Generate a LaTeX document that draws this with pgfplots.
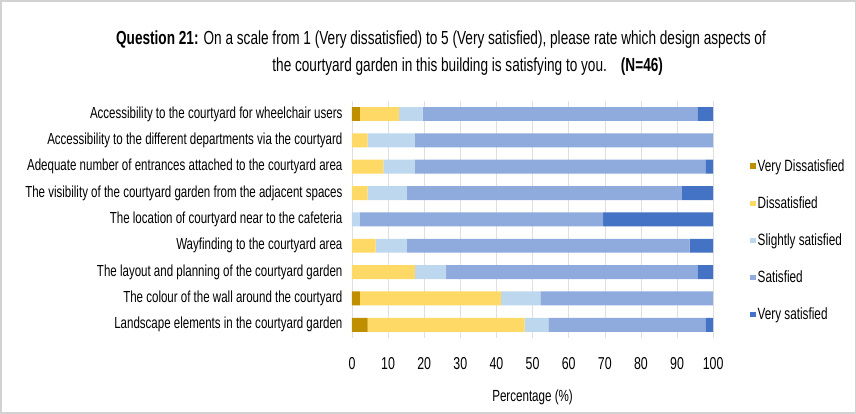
\documentclass[border=0pt]{standalone}
\usepackage{pgfplots}
\pgfplotsset{compat=1.18}
\usepackage{fontspec}
\setmainfont{Liberation Sans}[FakeStretch=0.72]
\definecolor{cVD}{HTML}{BF8F00}
\definecolor{cD}{HTML}{FFD966}
\definecolor{cS}{HTML}{BDD7EE}
\definecolor{cSat}{HTML}{8FAADC}
\definecolor{cVS}{HTML}{4472C4}
\begin{document}
\begin{tikzpicture}[x=1pt,y=1pt]
\draw[gray!35, line width=1.5pt] (1,1) rectangle (855,413);
\node[anchor=center, font=\fontsize{18.9}{22}\selectfont, inner sep=0pt] at (441,374)
  {\textbf{Question 21:} On a scale from 1 (Very dissatisfied) to 5 (Very satisfied), please rate which design aspects of};
\node[anchor=east, font=\fontsize{18.9}{22}\selectfont, inner sep=0pt] at (663,347)
  {the courtyard garden in this building is satisfying to you.\hspace{14pt}\textbf{(N=46)}};
\begin{axis}[
  at={(352pt,76pt)}, anchor=south west,
  scale only axis, width=361pt, height=237pt,
  xbar stacked, bar width=0.53,
  y dir=reverse,
  xmin=0, xmax=100, ymin=-0.5, ymax=8.5,
  xtick={0,10,...,100},
  ytick={0,...,8},
  yticklabels={
    Accessibility to the courtyard for wheelchair users,
    Accessibility to the different departments via the courtyard,
    Adequate number of entrances attached to the courtyard area,
    The visibility of the courtyard garden from the adjacent spaces,
    The location of courtyard near to the cafeteria,
    Wayfinding to the courtyard area,
    The layout and planning of the courtyard garden,
    The colour of the wall around the courtyard,
    Landscape elements in the courtyard garden},
  /pgf/number format/assume math mode=true,
  yticklabel style={font=\fontsize{16}{18}\selectfont, xshift=-6pt},
  xticklabel style={font=\fontsize{17.2}{19}\selectfont, yshift=-16pt},
  xlabel={Percentage (\%)},
  xlabel style={font=\fontsize{16.1}{18}\selectfont, yshift=-13pt},
  axis line style={draw=none},
  major tick length=0pt,
  xmajorgrids, grid style={gray!25},
  legend style={at={(1.102,0.762)}, anchor=north west, draw=none, fill=none,
    font=\fontsize{16.3}{19}\selectfont, row sep=19.8pt, inner sep=0pt},
  legend cell align=left,
  legend image code/.code={\fill[#1] (0pt,-2.75pt) rectangle (5.5pt,2.75pt);},
]
\addplot[fill=cVD, draw=none] coordinates {(2.17,0) (0,1) (0,2) (0,3) (0,4) (0,5) (0,6) (2.17,7) (4.35,8)};
\addplot[fill=cD, draw=none] coordinates {(10.87,0) (4.35,1) (8.70,2) (4.35,3) (0,4) (6.52,5) (17.39,6) (39.13,7) (43.48,8)};
\addplot[fill=cS, draw=none] coordinates {(6.52,0) (13.04,1) (8.70,2) (10.87,3) (2.17,4) (8.70,5) (8.70,6) (10.87,7) (6.52,8)};
\addplot[fill=cSat, draw=none] coordinates {(76.09,0) (82.61,1) (80.43,2) (76.09,3) (67.39,4) (78.26,5) (69.57,6) (47.83,7) (43.48,8)};
\addplot[fill=cVS, draw=none] coordinates {(4.35,0) (0,1) (2.17,2) (8.70,3) (30.43,4) (6.52,5) (4.35,6) (0,7) (2.17,8)};
\legend{Very Dissatisfied, Dissatisfied, Slightly satisfied, Satisfied, Very satisfied}
\end{axis}
\end{tikzpicture}
\end{document}
